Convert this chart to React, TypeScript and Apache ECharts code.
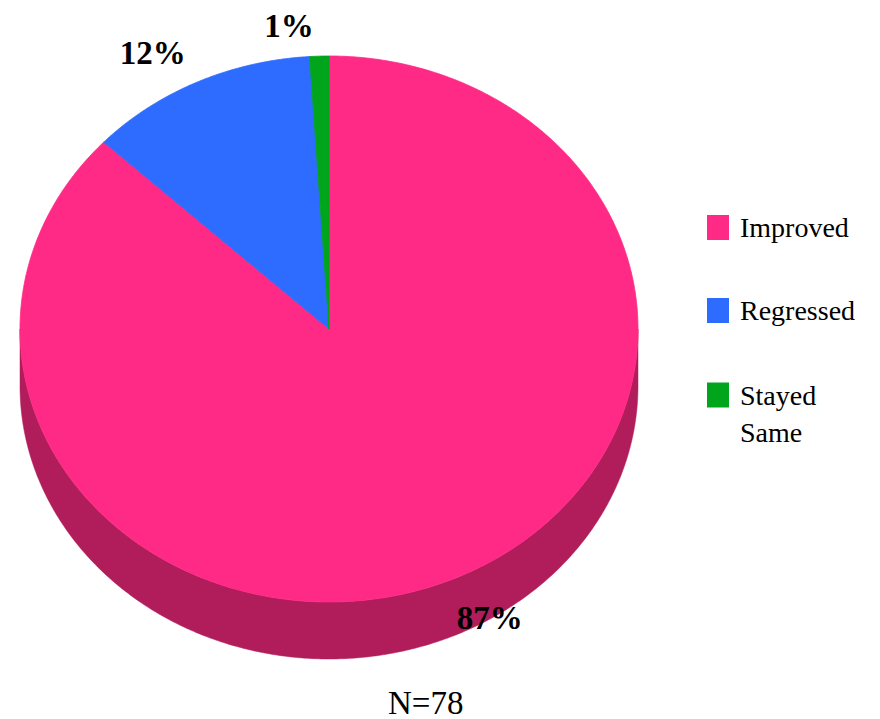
import React, { useEffect, useRef } from 'react';
import * as echarts from 'echarts';

const categories = ['Improved', 'Regressed', 'Stayed Same'];
const legendLines = [['Improved'], ['Regressed'], [' ', 'Stayed', 'Same']];
const values = [87, 12, 1];
const colors = ['#FF2A85', '#2E6BFF', '#00A51C'];
const sideColors = ['#B11D5B', '#1F4AB3', '#007312'];
const footnote = 'N=78';

const CX = 329;
const CY = 329;
const RX = 309;
const RY = 273;
const DEPTH = 57;
const LABEL_K = 1.05;
const FONT = 'Liberation Serif';

function pt(theta: number, k = 1, dy = 0): number[] {
  const r = (theta * Math.PI) / 180;
  return [CX + RX * k * Math.sin(r), CY - RY * k * Math.cos(r) + dy];
}

function arc(a: number, b: number, dy: number): number[][] {
  const pts: number[][] = [];
  const n = Math.max(2, Math.ceil((b - a) / 0.5));
  for (let i = 0; i <= n; i++) pts.push(pt(a + ((b - a) * i) / n, 1, dy));
  return pts;
}

const total = values.reduce((s, v) => s + v, 0);
const starts: number[] = [];
values.reduce((acc, v, i) => {
  starts[i] = acc;
  return acc + v;
}, 0);

function makeRender(s: number) {
  return (params: any, api: any) => {
    const v = api.value(0);
    const a = (starts[s] * 360) / total;
    const b = a + (v * 360) / total;
    const children: any[] = [];
    const sa = Math.max(a, 90);
    const sb = Math.min(b, 270);
    if (sb > sa) {
      const top = arc(sa, sb, 0);
      const bottom = arc(sa, sb, DEPTH).reverse();
      children.push({
        type: 'polygon',
        shape: { points: top.concat(bottom) },
        style: { fill: sideColors[s], stroke: sideColors[s], lineWidth: 0.5 },
      });
    }
    const color = api.visual('color');
    children.push({
      type: 'polygon',
      shape: { points: [[CX, CY], ...arc(a, b, 0)] },
      style: { fill: color, stroke: color, lineWidth: 0.8 },
    });
    const mid = (a + b) / 2;
    const r = (mid * Math.PI) / 180;
    const sn = Math.sin(r);
    const cs = Math.cos(r);
    let lx: number;
    let ly: number;
    if (cs >= 0) {
      const p = pt(mid, LABEL_K);
      lx = p[0] - 5;
      ly = p[1];
    } else {
      lx = CX + RX * sn + 5;
      ly = CY - RY * cs + DEPTH - 2;
    }
    children.push({
      type: 'text',
      x: lx,
      y: ly,
      style: {
        text: Math.round((v / total) * 100) + '%',
        fill: '#000',
        fontFamily: FONT,
        fontSize: 33,
        fontWeight: 'bold',
        align: sn < 0 ? 'right' : 'left',
        verticalAlign: 'bottom',
      },
    });
    return { type: 'group', children };
  };
}

const legendTops = [209, 292, 339.5];

export default function App() {
  const ref = useRef<HTMLDivElement>(null);
  useEffect(() => {
    if (!ref.current) return;
    const chart = echarts.init(ref.current, undefined, { renderer: 'svg' });
    const richStyle = {
      fontFamily: FONT,
      fontSize: 28,
      color: '#000',
      lineHeight: 37,
      height: 37,
    };
    chart.setOption({
      animation: false,
      backgroundColor: '#fff',
      textStyle: { fontFamily: FONT },
      title: {
        text: footnote,
        left: 388,
        top: 686,
        padding: 0,
        textStyle: { fontFamily: FONT, fontSize: 33, fontWeight: 'normal', color: '#000' },
      },
      legend: categories.map((c, i) => ({
        data: [{ name: c, icon: 'rect' }],
        orient: 'vertical',
        left: 707,
        top: legendTops[i],
        padding: 0,
        itemWidth: 22,
        itemHeight: 25,
        selectedMode: false,
        formatter: (name: string) =>
          legendLines[categories.indexOf(name)].map((l) => '{t|' + l + '}').join('\n'),
        textStyle: {
          fontFamily: FONT,
          fontSize: 28,
          color: '#000',
          lineHeight: 37,
          padding: [0, 0, 0, 6],
          rich: { t: richStyle },
        },
      })),
      series: categories.map((c, i) => ({
        type: 'custom',
        name: c,
        coordinateSystem: 'none',
        itemStyle: { color: colors[i] },
        data: [[values[i]]],
        renderItem: makeRender(i),
      })),
    });
    return () => chart.dispose();
  }, []);
  return (
    <div
      ref={ref}
      style={{ position: 'fixed', left: 0, top: 0, width: 880, height: 719 }}
    />
  );
}
